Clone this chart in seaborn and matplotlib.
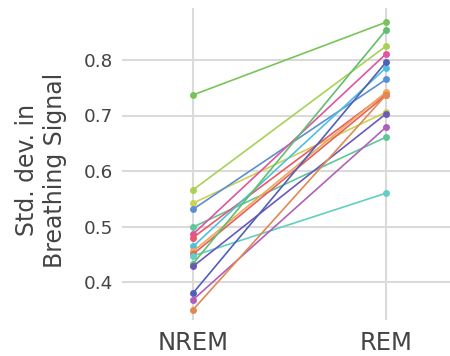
import matplotlib
matplotlib.use("Agg")
import matplotlib.pyplot as plt
import seaborn as sns
import pandas as pd

stages = ["NREM", "REM"]
subjects = [f"S{i+1}" for i in range(16)]
nrem = [0.737, 0.566, 0.542, 0.531, 0.499, 0.486, 0.480, 0.464, 0.455, 0.450, 0.447, 0.433, 0.428, 0.380, 0.368, 0.350]
rem = [0.868, 0.825, 0.706, 0.765, 0.661, 0.811, 0.740, 0.786, 0.742, 0.737, 0.560, 0.854, 0.703, 0.796, 0.679, 0.737]
colors = ["#78c45a", "#a8d255", "#ccd352", "#5a8fd6", "#5ec79a", "#df55a0",
          "#e85a6a", "#4fbfe0", "#f0a858", "#e8605a", "#62cfc2", "#5fbf6c",
          "#6a5ab8", "#5060b8", "#b060b8", "#e08a50"]

rows = []
for s, a, b in zip(subjects, nrem, rem):
    rows.append({"subject": s, "stage": stages[0], "value": a})
    rows.append({"subject": s, "stage": stages[1], "value": b})
df = pd.DataFrame(rows)

sns.set_style("white")
plt.rcParams["font.family"] = ["DejaVu Sans"]

fig = plt.figure(figsize=(4.5, 3.56), dpi=100)
ax = fig.add_axes([122/450, 1-320/356, 1-122/450, (320-8)/356])

sns.pointplot(data=df, x="stage", y="value", hue="subject", palette=colors,
              order=stages, hue_order=subjects, dodge=False, markers="o",
              markersize=5, linewidth=1.2, legend=False, ax=ax, errorbar=None)
for coll in ax.collections:
    coll.set_edgecolor("none")
for ln in ax.lines:
    ln.set_markeredgewidth(0)
    ln.set_zorder(3)

ax.set_xlim(-71/193, 1 + 64/193)
ax.set_ylim(0.8 - 260/555, 0.8 + 52/555)
ax.set_yticks([0.4, 0.5, 0.6, 0.7, 0.8])
ax.set_yticklabels(["0.4", "0.5", "0.6", "0.7", "0.8"])
ax.grid(True, color="#dadada", linewidth=1.5)
ax.set_axisbelow(True)
for sp in ax.spines.values():
    sp.set_visible(False)
ax.tick_params(axis="both", length=0, colors="#444444")
ax.tick_params(axis="y", pad=6.5, labelsize=13.2)
ax.tick_params(axis="x", pad=8, labelsize=17.5)
ax.set_xlabel("")
ax.set_ylabel("Std. dev. in\nBreathing Signal", fontsize=17, color="#444444", linespacing=1.2)
ax.yaxis.set_label_coords((67 - 122) / 328, 1 - (170 - 8) / 312)

fig.savefig("out.png", dpi=100)
